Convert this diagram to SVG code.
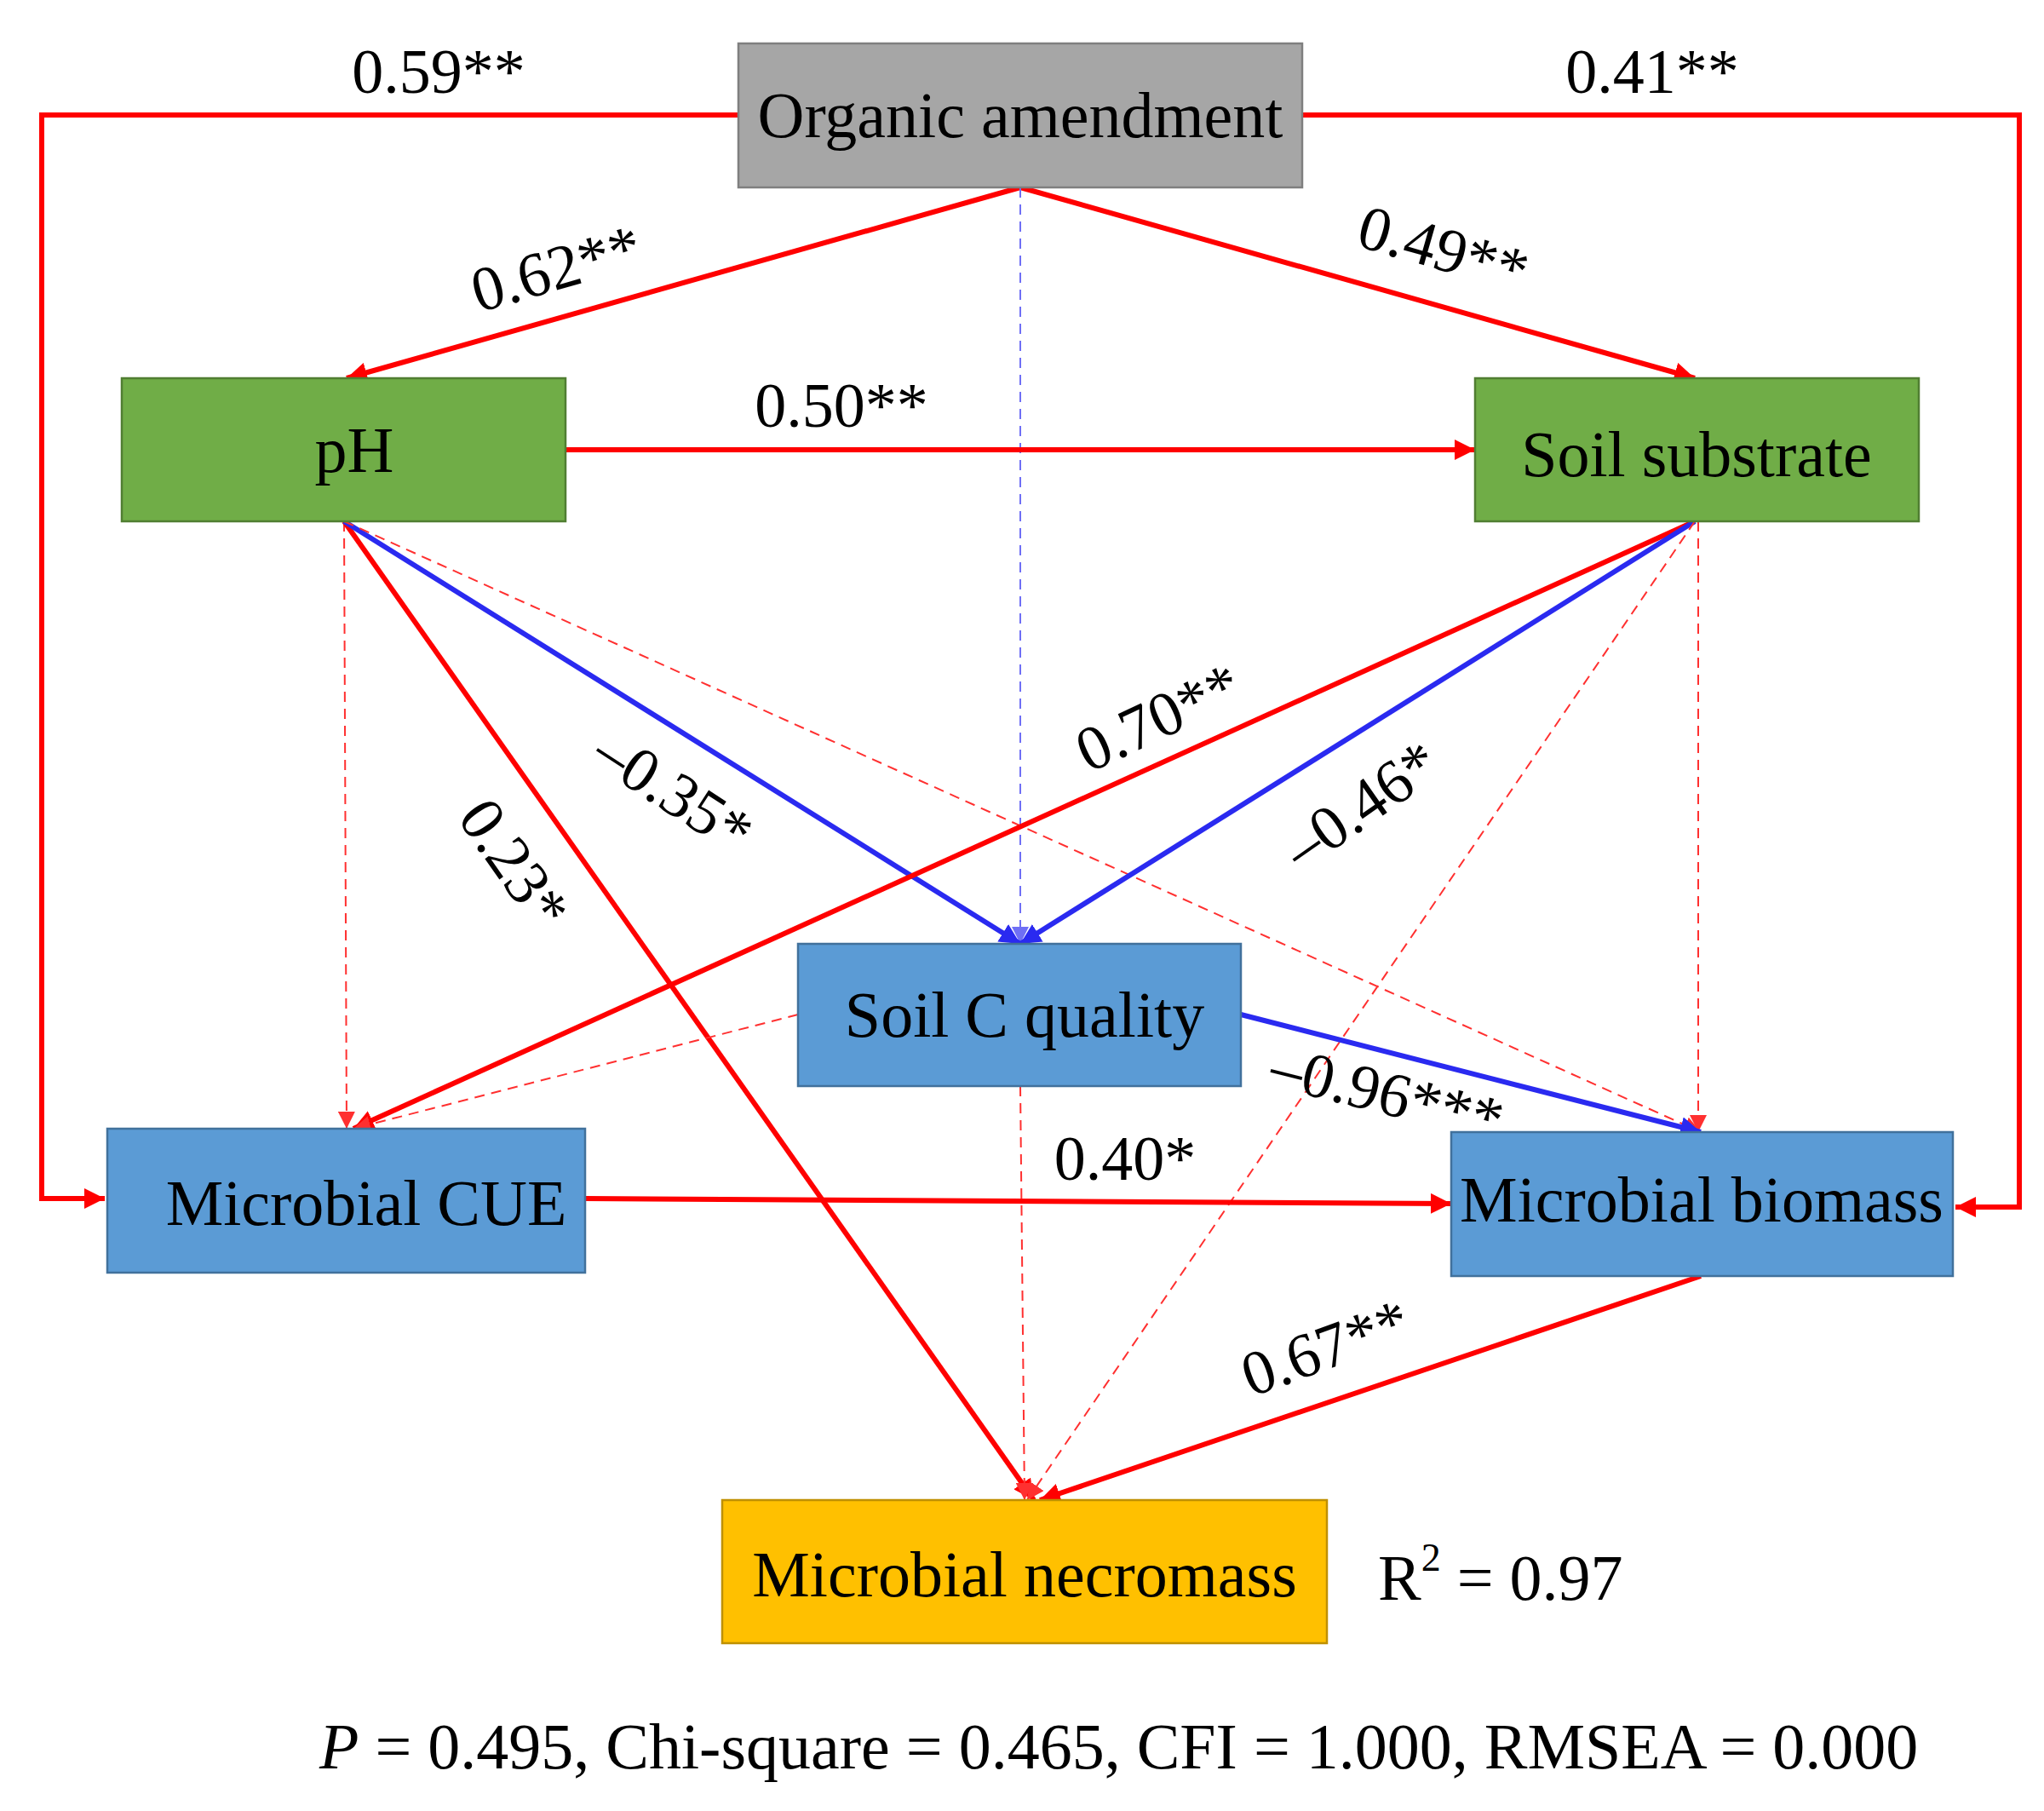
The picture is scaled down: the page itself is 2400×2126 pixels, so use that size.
<svg xmlns="http://www.w3.org/2000/svg" width="2400" height="2126" viewBox="0 0 2400 2126">
<style>
.n{stroke-width:2.5}
.t{font-family:"Liberation Serif",serif;font-size:76px;fill:#000;text-anchor:middle;dominant-baseline:central}
.l{font-family:"Liberation Serif",serif;font-size:74px;fill:#000;text-anchor:middle;dominant-baseline:central}
.r{stroke:#ff0000;stroke-width:6;fill:none;marker-end:url(#ar)}
.b{stroke:#2a2af0;stroke-width:6;fill:none;marker-end:url(#ab)}
.rd{stroke:#ff3030;stroke-width:2;stroke-dasharray:12 8;fill:none;marker-end:url(#ar2)}
.bd{stroke:#6f6ff5;stroke-width:2;stroke-dasharray:12 8;fill:none;marker-end:url(#ab2)}
</style>
<defs>
<marker id="ar" viewBox="0 0 10 10" refX="10" refY="5" markerWidth="4" markerHeight="4" orient="auto" markerUnits="strokeWidth"><path d="M0,0L10,5L0,10z" fill="#ff0000"/></marker>
<marker id="ab" viewBox="0 0 10 10" refX="10" refY="5" markerWidth="4" markerHeight="4" orient="auto" markerUnits="strokeWidth"><path d="M0,0L10,5L0,10z" fill="#2a2af0"/></marker>
<marker id="ar2" viewBox="0 0 10 10" refX="10" refY="5" markerWidth="10" markerHeight="10" orient="auto" markerUnits="strokeWidth"><path d="M0,0L10,5L0,10z" fill="#ff3030"/></marker>
<marker id="ab2" viewBox="0 0 10 10" refX="10" refY="5" markerWidth="10" markerHeight="10" orient="auto" markerUnits="strokeWidth"><path d="M0,0L10,5L0,10z" fill="#6f6ff5"/></marker>
</defs>
<rect width="2400" height="2126" fill="#fff"/>
<g id="connectors">
<path class="r" d="M867,135H49V1407H123"/>
<path class="r" d="M1529,135H2371V1417H2296"/>
<path class="r" d="M1198,220L407,444"/>
<path class="r" d="M1198,220L1990,444"/>
<path class="bd" d="M1198,220V1108"/>
<path class="r" d="M664,528H1732"/>
<path class="rd" d="M404,612L407,1325"/>
<path class="r" d="M404,612L1214,1761"/>
<path class="b" d="M404,612L1198,1108"/>
<path class="rd" d="M404,612L1997,1329"/>
<path class="r" d="M1990,612L415,1325"/>
<path class="b" d="M1990,612L1198,1108"/>
<path class="rd" d="M1994,612V1329"/>
<path class="rd" d="M1990,612L1206,1761"/>
<path class="rd" d="M937,1191L415,1325"/>
<path class="b" d="M1457,1191L1997,1329"/>
<path class="rd" d="M1198,1275L1203,1761"/>
<path class="r" d="M687,1407L1704,1413"/>
<path class="r" d="M1997,1498L1221,1761"/>
</g>
<g id="oa"><rect class="n" x="867" y="51" width="662" height="169" fill="#a6a6a6" stroke="#7f7f7f"/><text class="t" x="1198" y="135">Organic amendment</text></g>
<g id="ph"><rect class="n" x="143" y="444" width="521" height="168" fill="#70ad47" stroke="#507e32"/><text class="t" x="416" y="528">pH</text></g>
<g id="ss"><rect class="n" x="1732" y="444" width="521" height="168" fill="#70ad47" stroke="#507e32"/><text class="t" x="1992" y="533">Soil substrate</text></g>
<g id="scq"><rect class="n" x="937" y="1108" width="520" height="167" fill="#5b9bd5" stroke="#41719c"/><text class="t" x="1203" y="1191">Soil C quality</text></g>
<g id="cue"><rect class="n" x="126" y="1325" width="561" height="169" fill="#5b9bd5" stroke="#41719c"/><text class="t" x="430" y="1412">Microbial CUE</text></g>
<g id="mb"><rect class="n" x="1704" y="1329" width="589" height="169" fill="#5b9bd5" stroke="#41719c"/><text class="t" x="1998" y="1408">Microbial biomass</text></g>
<g id="mn"><rect class="n" x="848" y="1761" width="710" height="168" fill="#ffc000" stroke="#bf9000"/><text class="t" x="1203" y="1848">Microbial necromass</text></g>
<g id="labels">
<text class="l" x="515" y="84">0.59**</text>
<text class="l" x="1940" y="84">0.41**</text>
<text class="l" transform="translate(653,315) rotate(-16)">0.62**</text>
<text class="l" transform="translate(1695,292) rotate(16)">0.49**</text>
<text class="l" x="988" y="476">0.50**</text>
<text class="l" transform="translate(1360,842) rotate(-25)">0.70**</text>
<text class="l" transform="translate(1598,945) rotate(-35)">–0.46*</text>
<text class="l" transform="translate(791,929) rotate(33)">–0.35*</text>
<text class="l" transform="translate(604,1014) rotate(55)">0.23*</text>
<text class="l" transform="translate(1629,1283) rotate(14)">–0.96***</text>
<text class="l" x="1321" y="1360">0.40*</text>
<text class="l" transform="translate(1556,1582) rotate(-20)">0.67**</text>
<text class="t" x="1618" y="1852" style="text-anchor:start">R<tspan font-size="46" dy="-24">2</tspan><tspan dy="24"> = 0.97</tspan></text>
<text class="t" x="375" y="2050" style="text-anchor:start"><tspan font-style="italic">P</tspan> = 0.495, Chi-square = 0.465, CFI = 1.000, RMSEA = 0.000</text>
</g>
</svg>
